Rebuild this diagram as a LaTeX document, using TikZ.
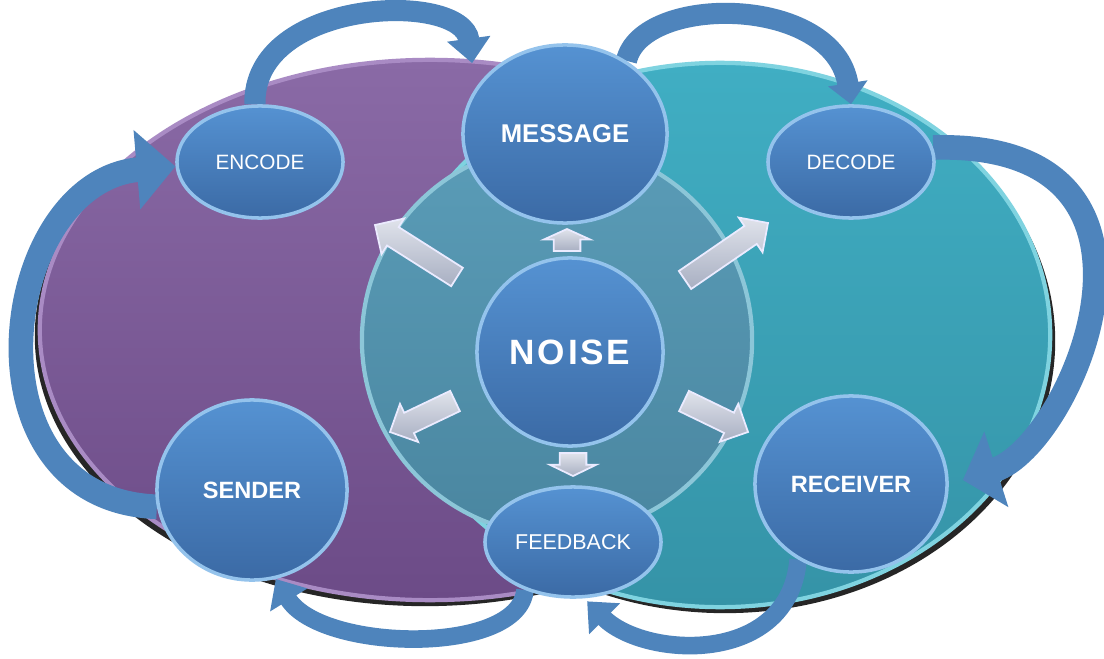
\documentclass[tikz,border=0pt]{standalone}
\usepackage{fontspec}
\setmainfont{Liberation Sans}
\usetikzlibrary{shapes.geometric,arrows.meta,calc}
\definecolor{purpT}{HTML}{8A6AA6}
\definecolor{purpB}{HTML}{6C4B87}
\definecolor{purpRim}{HTML}{A98BC4}
\definecolor{tealT}{HTML}{40AEC3}
\definecolor{tealB}{HTML}{3593A7}
\definecolor{tealRim}{HTML}{7FD3E0}
\definecolor{ringT}{HTML}{5A9CB7}
\definecolor{ringB}{HTML}{4A86A0}
\definecolor{ringRim}{HTML}{8CC6D8}
\definecolor{bubT}{HTML}{5592D2}
\definecolor{bubB}{HTML}{3B6AA5}
\definecolor{bubRim}{HTML}{94C3EC}
\definecolor{carr}{HTML}{4E84BC}
\definecolor{blkT}{HTML}{E0E3EB}
\definecolor{blkB}{HTML}{A8AFC2}
\pgfdeclarelayer{bg}
\pgfdeclarelayer{mid}
\pgfsetlayers{bg,mid,main}
\newcommand\blkarrow[6]{%
  \coordinate (#3h) at ($(#2)!#6!(#1)$);
  \path[blockarr] ($(#1)!#4!90:(#2)$) -- ($(#3h)!#4!-90:(#1)$) -- ($(#3h)!#5!-90:(#1)$) -- (#2)
    -- ($(#3h)!#5!90:(#1)$) -- ($(#3h)!#4!90:(#1)$) -- ($(#1)!#4!-90:(#2)$) -- cycle;
}
\begin{document}
\begin{tikzpicture}[x=0.01cm,y=-0.01cm,
  bub/.style={ellipse, inner sep=0pt, top color=bubT, bottom color=bubB, draw=bubRim, line width=1pt, text=white},
  regtext/.style={font=\fontsize{5.9}{7}\selectfont},
  boldtext/.style={font=\bfseries\fontsize{6.7}{8}\selectfont},
  carrow/.style={draw=carr, line cap=butt},
  blockarr/.style={top color=blkT, bottom color=blkB, draw=white!92!blue, line width=0.5pt, line join=miter}
]
\useasboundingbox (0,0) rectangle (1104,658);

% nodes
\node[bub, minimum width=1.66cm, minimum height=1.12cm, regtext] (encode) at (260,162) {ENCODE};
\node[bub, minimum width=1.66cm, minimum height=1.12cm, regtext] (decode) at (851,162) {DECODE};
\node[bub, minimum width=2.04cm, minimum height=1.78cm, font=\bfseries\fontsize{7.3}{9}\selectfont] (message) at (565,134) {MESSAGE};
\node[bub, minimum width=1.86cm, minimum height=1.88cm, font=\bfseries\fontsize{10}{12}\selectfont\addfontfeature{LetterSpace=8}] (noise) at (570,352) {NOISE};
\node[bub, minimum width=1.76cm, minimum height=1.10cm, font=\fontsize{6.1}{7}\selectfont] (feedback) at (573,542) {FEEDBACK};
\node[bub, minimum width=1.90cm, minimum height=1.80cm, boldtext] (sender) at (252,490) {SENDER};
\node[bub, minimum width=1.92cm, minimum height=1.76cm, boldtext] (receiver) at (851,484) {RECEIVER};

% background shapes
\begin{pgfonlayer}{bg}
  \fill[white] (0,0) rectangle (1104,658);
  \fill[black,opacity=.85] (425,336) ellipse [x radius=3.9cm, y radius=2.7cm];
  \fill[black,opacity=.85] (725,341) ellipse [x radius=3.3cm, y radius=2.72cm];
  \path[top color=purpT, bottom color=purpB, draw=purpRim, line width=1.2pt] (430,330) ellipse [x radius=3.9cm, y radius=2.7cm];
  \path[top color=tealT, bottom color=tealB, draw=tealRim, line width=1.2pt] (720,335) ellipse [x radius=3.3cm, y radius=2.72cm];
  \node[circle, minimum size=3.9cm, inner sep=0pt, top color=ringT, bottom color=ringB, draw=ringRim, line width=1.2pt] (noisering) at (557,340) {};
\end{pgfonlayer}

% curved arrows
\begin{pgfonlayer}{mid}
  \draw[carrow, line width=6pt, -{Triangle[width=12pt,length=7pt]}]
    (encode.95) .. controls +(-3,-106) and +(-10,-73) .. ($(message.140)+(-18,-8)$);
  \draw[carrow, line width=6pt, -{Triangle[width=11pt,length=6pt]}]
    (message.50) .. controls +(15,-67) and +(-17,-110) .. (decode.90);
  \draw[carrow, line width=7pt, -{Triangle[width=22pt,length=10pt]}]
    (decode.10) .. controls +(269,-8) and +(110,-35) .. ($(receiver.east)+(14,-4)$);
  \draw[carrow, line width=5pt, -{Triangle[width=12pt,length=7pt]}]
    (receiver.235) .. controls +(-9,107) and +(57,57) .. ($(feedback.290)+(-6,4)$);
  \draw[carrow, line width=5pt, -{Triangle[width=12pt,length=7pt]}]
    (feedback.225) .. controls +(-6,66) and +(45,73) .. (sender.285);
  \draw[carrow, line width=7pt, -{Triangle[width=22pt,length=11pt]}]
    (sender.190) .. controls +(-198,-7) and +(-177,15) .. (encode.183);

  % block arrows from noise
  \coordinate (a1t) at (457,277); \coordinate (a1p) at (375,225);
  \coordinate (a2t) at (567,251); \coordinate (a2p) at (567,229);
  \coordinate (a3t) at (685,280); \coordinate (a3p) at (768,223);
  \coordinate (a4t) at (455,401); \coordinate (a4p) at (390,432);
  \coordinate (a5t) at (684,401); \coordinate (a5p) at (748,432);
  \coordinate (a6t) at (573,453); \coordinate (a6p) at (573,476);
  \blkarrow{a1t}{a1p}{a1}{3.1pt}{6pt}{6pt}
  \blkarrow{a2t}{a2p}{a2}{3.8pt}{6.6pt}{3pt}
  \blkarrow{a3t}{a3p}{a3}{3.1pt}{6pt}{6pt}
  \blkarrow{a4t}{a4p}{a4}{3.2pt}{6pt}{6pt}
  \blkarrow{a5t}{a5p}{a5}{3.2pt}{6pt}{6pt}
  \blkarrow{a6t}{a6p}{a6}{3.8pt}{6.6pt}{3.2pt}
\end{pgfonlayer}
\end{tikzpicture}
\end{document}
